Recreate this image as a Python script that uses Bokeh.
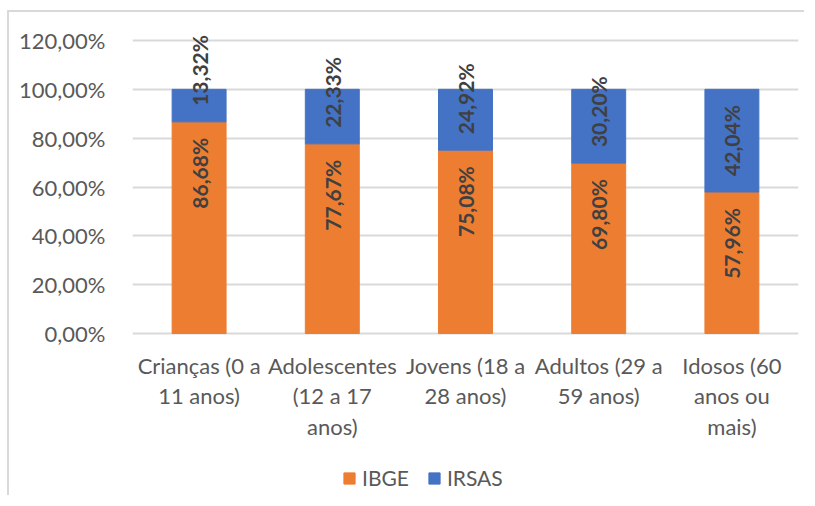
import math
from bokeh.plotting import figure
from bokeh.models import (ColumnDataSource, FactorRange, Range1d, FixedTicker,
                          Legend, LegendItem)
from bokeh.core.properties import value
from bokeh.embed import file_html
from bokeh.resources import INLINE

# ---- data ----
categories = ["Crianças", "Adolescentes", "Jovens", "Adultos", "Idosos"]
category_labels = ["Crianças (0 a\n11 anos)", "Adolescentes\n(12 a 17\nanos)",
                   "Jovens (18 a\n28 anos)", "Adultos (29 a\n59 anos)",
                   "Idosos (60\nanos ou\nmais)"]
ibge = [86.68, 77.67, 75.08, 69.80, 57.96]
irsas = [13.32, 22.33, 24.92, 30.20, 42.04]
series = ["IBGE", "IRSAS"]
y_ticks = [0, 20, 40, 60, 80, 100, 120]
y_tick_labels = ["0,00%", "20,00%", "40,00%", "60,00%", "80,00%", "100,00%", "120,00%"]

ORANGE = "#ED7D31"
BLUE = "#4472C4"
FONT = "Lato"
FS = "21px"
FS_AX = "22px"

# ---- layout (pixels) ----
W, H = 797, 485
GRID_TOP, LEFT, RIGHT = 28, 123, 8
PLOT_H = 293            # height of the 0..120 band
y_top_tick = 120
px_per_unit = PLOT_H / y_top_tick
y_max = y_top_tick + GRID_TOP / px_per_unit
y_min = -(H - GRID_TOP - PLOT_H) / px_per_unit   # room below 0 for labels/legend


def fmt(v):
    return f"{v:.2f}".replace(".", ",") + "%"


src = ColumnDataSource(dict(
    cat=categories, IBGE=ibge, IRSAS=irsas,
    ibge_lbl=[fmt(v) for v in ibge],
    irsas_lbl=[fmt(v) for v in irsas],
    cat_lbl=category_labels,
    zero=[0] * len(categories),
))

p = figure(x_range=FactorRange(*categories), y_range=Range1d(y_min, y_max),
           width=W, height=H, output_backend="svg", toolbar_location=None,
           min_border_left=LEFT, min_border_right=RIGHT, min_border_top=0,
           min_border_bottom=0, margin=(10, 0, 0, 7))
p.styles = {"border-left": "2px solid #D9D9D9", "border-top": "2px solid #D9D9D9"}
p.outline_line_color = None
p.background_fill_color = "white"
p.border_fill_color = "white"

renderers = p.vbar_stack(series, x="cat", width=0.405, source=src,
                         color=[ORANGE, BLUE], line_color=[ORANGE, BLUE])

# data labels
p.text(x="cat", y="IBGE", text="ibge_lbl", source=src, angle=math.pi / 2,
       text_align="right", text_baseline="middle", y_offset=16,
       text_font=value(FONT), text_font_style="bold", text_font_size=FS,
       text_color="#404040")
p.text(x="cat", y="IBGE", text="irsas_lbl", source=src, angle=math.pi / 2,
       text_align="left", text_baseline="middle", y_offset=-16,
       text_font=value(FONT), text_font_style="bold", text_font_size=FS,
       text_color="#404040")

# category labels (below the baseline)
p.text(x="cat", y="zero", text="cat_lbl", source=src,
       text_align="center", text_baseline="top", y_offset=18,
       text_font=value(FONT), text_font_size=FS_AX, text_color="#595959",
       text_line_height=1.13)

# axes
p.yaxis.ticker = FixedTicker(ticks=y_ticks)
p.yaxis.major_label_overrides = {t: l for t, l in zip(y_ticks, y_tick_labels)}
p.yaxis.axis_line_color = None
p.yaxis.major_tick_line_color = None
p.yaxis.minor_tick_line_color = None
p.yaxis.major_label_standoff = 21
p.yaxis.major_label_text_font = FONT
p.yaxis.major_label_text_font_size = FS_AX
p.yaxis.major_label_text_color = "#595959"

p.xaxis.visible = False

p.xgrid.grid_line_color = None
p.ygrid.grid_line_color = "#D9D9D9"
p.ygrid.grid_line_width = 2

legend = Legend(items=[LegendItem(label=s, renderers=[r]) for s, r in zip(series, renderers)],
                orientation="horizontal", location=(210, 7),
                padding=0, margin=0, spacing=18, label_standoff=6,
                glyph_width=14, glyph_height=14,
                label_text_font=FONT, label_text_font_size=FS,
                label_text_color="#595959", border_line_color=None,
                background_fill_alpha=0)
p.add_layout(legend, "center")

open("out.html", "w").write(file_html(p, INLINE))
